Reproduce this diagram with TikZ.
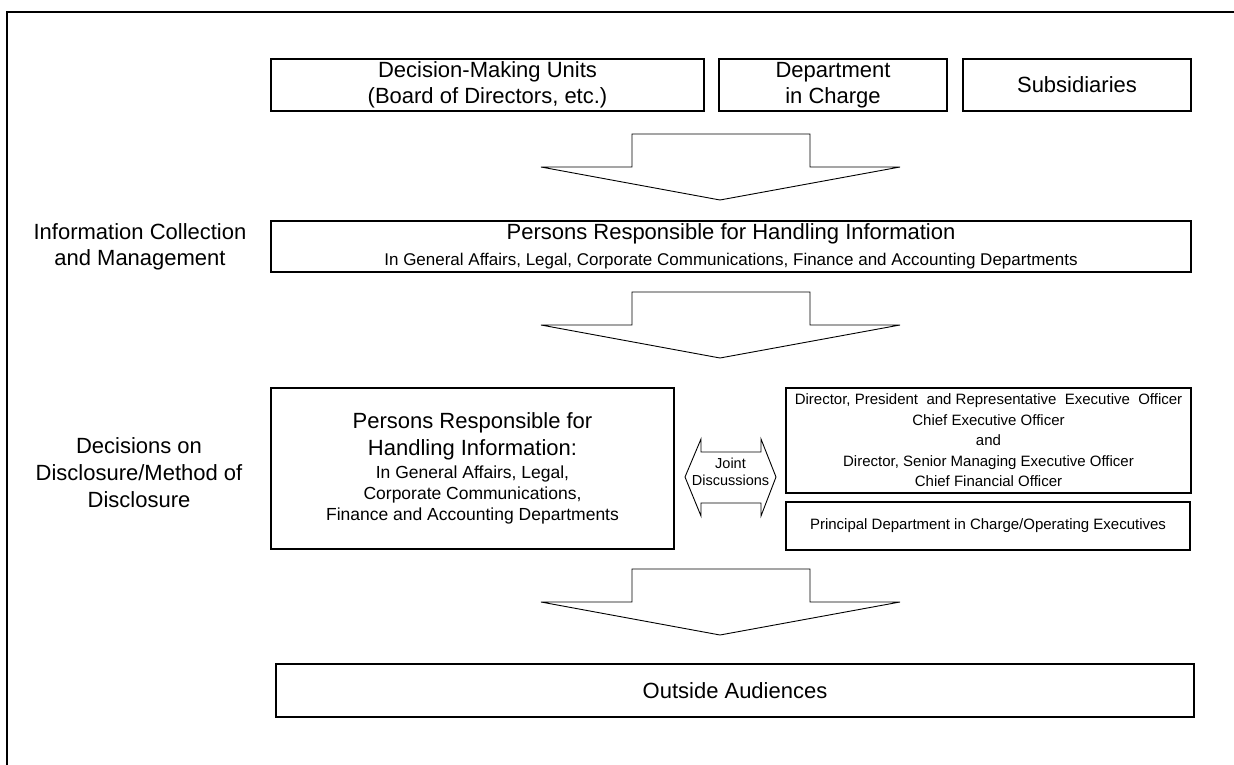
\documentclass[tikz,border=0pt]{standalone}
\usepackage{fontspec}
\setmainfont{Liberation Sans}

\tikzset{
  box/.style={draw, line width=1.2pt, inner sep=0pt, align=center,
    font=\fontsize{22}{26}\selectfont},
  smallbox/.style={box, font=\fontsize{15}{20.5}\selectfont},
  label/.style={align=center, inner sep=0pt, font=\fontsize{22}{26}\selectfont},
  blockarrow/.style={draw, line width=0.9pt, line join=miter, fill=white},
}

\begin{document}
\begin{tikzpicture}[x=1pt,y=-1pt]
    \useasboundingbox (0,0) rectangle (1234,765);
    % outer frame
    \draw[line width=1.3pt] (7,770) -- (7,12) -- (1240,12);
    % sources
    \node[box, minimum width=433pt, minimum height=52pt] (units) at (487.5,85)
        {Decision-Making Units\\(Board of Directors, etc.)};
    \node[box, minimum width=228pt, minimum height=52pt] (dept) at (833,85)
        {Department\\in Charge};
    \node[box, minimum width=228pt, minimum height=52pt] (subs) at (1077,85)
        {Subsidiaries};
    % block arrows
    \foreach \t in {134,292,569}
      \draw[blockarrow] (632,\t) -- (810,\t) -- (810,\t+33) -- (900,\t+33)
          -- (720,\t+66) -- (541,\t+33) -- (632,\t+33) -- cycle;
    % collection
    \node[label] (collect) at (140,247)
        {Information Collection\\and Management};
    \node[box, minimum width=920pt, minimum height=51pt] (handlers) at (731,246.5)
        {\fontsize{22}{25}\selectfont Persons Responsible for Handling Information\\
         \fontsize{17}{25}\selectfont In General Affairs, Legal, Corporate Communications, Finance and Accounting Departments};
    % decisions
    \node[label, font=\fontsize{22}{27}\selectfont] (decide) at (139,473)
        {Decisions on\\Disclosure/Method of\\Disclosure};
    \node[box, minimum width=403pt, minimum height=161pt, font=\fontsize{17.5}{21}\selectfont]
        (persons) at (472.5,468.5)
        {\fontsize{22}{27}\selectfont Persons Responsible for\\[6pt]
         \fontsize{22}{27}\selectfont Handling Information:\\[2pt]
         In General Affairs, Legal,\\
         Corporate Communications,\\
         Finance and Accounting Departments};
    \node[smallbox, minimum width=405pt, minimum height=105pt] (officers) at (988.5,440.5)
        {Director, President\ \ and Representative\ \ Executive\ \ Officer\\
         Chief Executive Officer\\
         and\\
         Director, Senior Managing Executive Officer\\
         Chief Financial Officer};
    \node[smallbox, minimum width=404pt, minimum height=48pt] (principal) at (988,526)
        {Principal Department in Charge/Operating Executives};
    % joint discussions
    \draw[blockarrow] (685,477) -- (701,439) -- (701,452) -- (761,452) -- (761,439)
        -- (776,477) -- (761,516) -- (761,503) -- (701,503) -- (701,516) -- cycle;
    \node[align=center, inner sep=0pt, font=\fontsize{14.5}{17}\selectfont] (joint)
        at (730.5,472) {Joint\\Discussions};
    % audiences
    \node[box, minimum width=918pt, minimum height=53pt] (outside) at (735,690.5)
        {Outside Audiences};
\end{tikzpicture}
\end{document}
